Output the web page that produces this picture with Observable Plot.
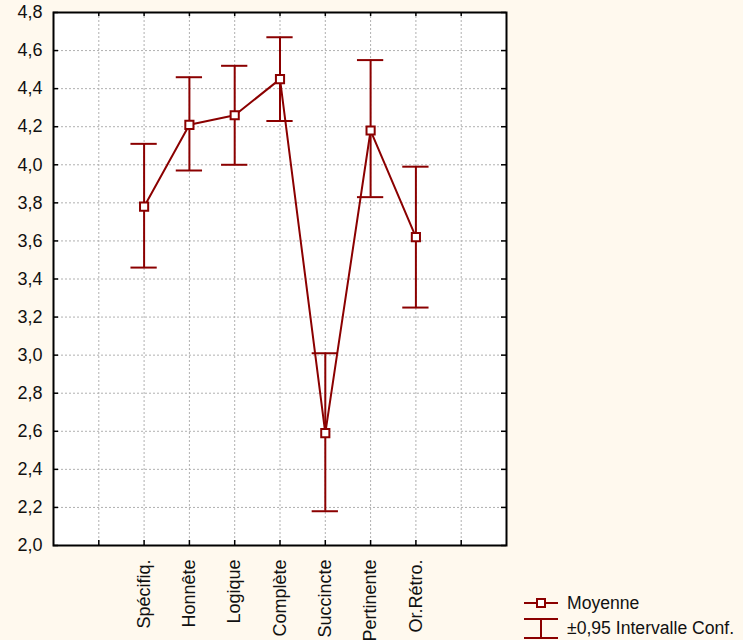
<!DOCTYPE html>
<html><head><meta charset="utf-8">
<script src="https://cdn.jsdelivr.net/npm/d3@7"></script>
<script src="https://cdn.jsdelivr.net/npm/@observablehq/plot@0.6"></script>
<style>
body{margin:0;background:#FFF9EE;}
#wrap{position:relative;width:743px;height:640px;font-family:"Liberation Sans",Arial,sans-serif;overflow:hidden;}
.lg{position:absolute;font-size:17.6px;color:#111;white-space:nowrap;line-height:1;}
.lgsym{position:absolute;}
</style></head><body><div id="wrap"></div>
<script>
const categories = ["Spécifiq.","Honnête","Logique","Complète","Succincte","Pertinente","Or.Rétro."];
const means = [3.78, 4.21, 4.26, 4.45, 2.59, 4.18, 3.62];
const upper = [4.11, 4.46, 4.52, 4.67, 3.01, 4.55, 3.99];
const lower = [3.46, 3.97, 4.00, 4.23, 2.18, 3.83, 3.25];
const yTicks = [2.0, 2.2, 2.4, 2.6, 2.8, 3.0, 3.2, 3.4, 3.6, 3.8, 4.0, 4.2, 4.4, 4.6, 4.8];
const xSlots = [1, 2, 3, 4, 5, 6, 7, 8, 9];
const legendLabels = ["Moyenne", "±0,95 Intervalle Conf."];

const red = "#8B0000";
const W = 743, H = 640, mL = 53, mR = 237, mT = 12, mB = 95;
const plotW = W - mL - mR, plotH = H - mT - mB;

const rows = categories.map((c, i) => ({cat: c, pos: i + 2, mean: means[i], hi: upper[i], lo: lower[i]}));
const capHalf = 0.29;

const chart = Plot.plot({
  width: W, height: H,
  marginLeft: mL, marginRight: mR, marginTop: mT, marginBottom: mB,
  style: {background: "transparent", fontFamily: "'Liberation Sans', Arial, sans-serif", fontSize: "18px", color: "#111"},
  x: {domain: [0, 10], label: null},
  y: {domain: [2.0, 4.8], label: null},
  marks: [
    Plot.frame({fill: "white"}),
    Plot.gridX(xSlots, {stroke: "#b0b0b0", strokeOpacity: 1, strokeDasharray: "2,2"}),
    Plot.gridY(yTicks, {stroke: "#b0b0b0", strokeOpacity: 1, strokeDasharray: "2,2"}),
    Plot.ruleX(rows, {x: "pos", y1: "lo", y2: "hi", stroke: red, strokeWidth: 2}),
    Plot.ruleY(rows, {y: "hi", x1: d => d.pos - capHalf, x2: d => d.pos + capHalf, stroke: red, strokeWidth: 2}),
    Plot.ruleY(rows, {y: "lo", x1: d => d.pos - capHalf, x2: d => d.pos + capHalf, stroke: red, strokeWidth: 2}),
    Plot.line(rows, {x: "pos", y: "mean", stroke: red, strokeWidth: 2}),
    Plot.dot(rows, {x: "pos", y: "mean", symbol: "square", r: 4.6, fill: "white", stroke: red, strokeWidth: 2}),
    Plot.ruleX(xSlots, {x: d => d, insetTop: plotH - 5, stroke: "black", strokeWidth: 1.5}),
    Plot.ruleX(xSlots, {x: d => d, insetBottom: plotH - 4, stroke: "black", strokeWidth: 1.5}),
    Plot.ruleY(yTicks, {y: d => d, insetRight: plotW - 5, stroke: "black", strokeWidth: 1.5}),
    Plot.ruleY(yTicks, {y: d => d, insetLeft: plotW - 5, stroke: "black", strokeWidth: 1.5}),
    Plot.axisY(yTicks, {tickSize: 0, tickPadding: 11, fontSize: 18, tickFormat: d => d.toFixed(1).replace(".", ",")}),
    Plot.axisX(rows.map(d => d.pos), {tickSize: 0, tickPadding: 14, tickRotate: -90, fontSize: 18, tickFormat: d => categories[d - 2]}),
    Plot.frame({stroke: "black", strokeWidth: 2})
  ]
});

const wrap = document.getElementById("wrap");
wrap.appendChild(chart);
chart.style.position = "absolute";
chart.style.left = "0px";
chart.style.top = "0px";

// legend
const sym1 = document.createElement("div");
sym1.className = "lgsym";
sym1.style.left = "522px"; sym1.style.top = "594px";
sym1.innerHTML = `<svg width="38" height="18"><line x1="2" x2="36" y1="9" y2="9" stroke="${red}" stroke-width="2"/><rect x="15" y="5" width="8" height="8" fill="white" stroke="${red}" stroke-width="2"/></svg>`;
wrap.appendChild(sym1);
const t1 = document.createElement("div");
t1.className = "lg"; t1.style.left = "567px"; t1.style.top = "595px";
t1.textContent = legendLabels[0];
wrap.appendChild(t1);

const sym2 = document.createElement("div");
sym2.className = "lgsym";
sym2.style.left = "522px"; sym2.style.top = "617px";
sym2.innerHTML = `<svg width="38" height="23"><line x1="2" x2="36" y1="2" y2="2" stroke="${red}" stroke-width="2"/><line x1="2" x2="36" y1="21" y2="21" stroke="${red}" stroke-width="2"/><line x1="19" x2="19" y1="2" y2="21" stroke="${red}" stroke-width="2"/></svg>`;
wrap.appendChild(sym2);
const t2 = document.createElement("div");
t2.className = "lg"; t2.style.left = "567px"; t2.style.top = "620px";
t2.textContent = legendLabels[1];
wrap.appendChild(t2);
</script>
</body></html>
